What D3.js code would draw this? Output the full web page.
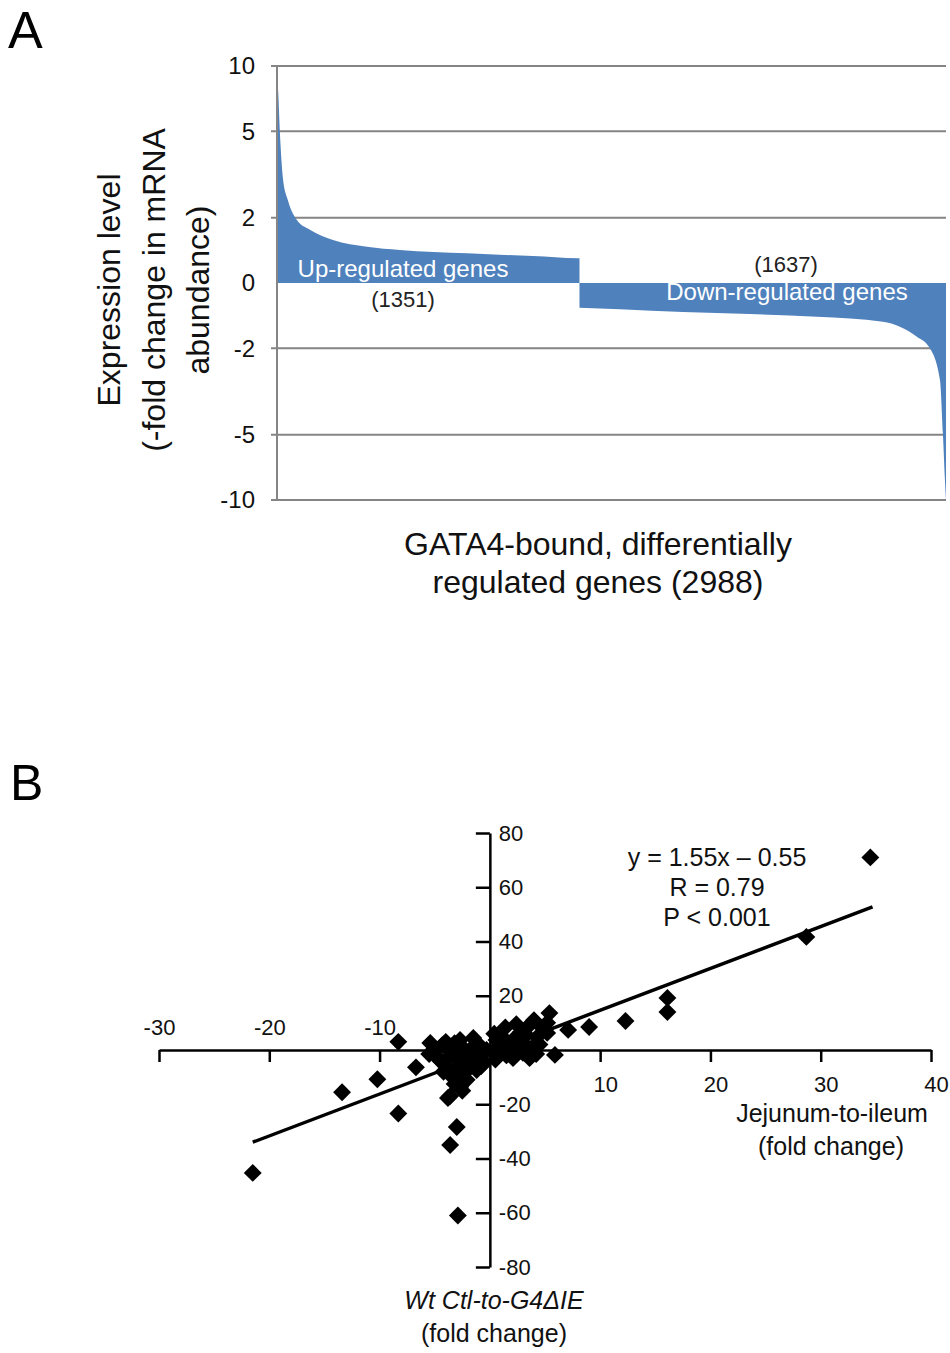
<!DOCTYPE html>
<html>
<head>
<meta charset="utf-8">
<script src="https://cdn.jsdelivr.net/npm/d3@7"></script>
<style>
  body { margin: 0; background: #fff; }
  text { font-family: "Liberation Sans", Arial, sans-serif; }
</style>
</head>
<body>
<script>
// ---- panel A: ranked genes, fold change ----
var totalGenes = 2988
var upCount = 1351
var upRank = [0, 4, 13, 27, 49, 89, 147, 250, 402, 549, 849, 1143, 1344, 1351]
var upFold = [8.6, 8.0, 4.9, 3.0, 2.4, 1.95, 1.76, 1.58, 1.47, 1.42, 1.37, 1.33, 1.3, 1.3]
var downRank = [1351, 1532, 1813, 2112, 2412, 2706, 2858, 2916, 2961, 2974, 2983, 2988]
var downFold = [-1.3, -1.32, -1.36, -1.39, -1.43, -1.51, -1.77, -2.0, -2.8, -4.9, -8.0, -10]
var ticksA = [10, 5, 2, 0, -2, -5, -10]

// ---- panel B: scatter ----
var scatterX = [34.5, 28.7, 16.1, 16.1, 12.3, 9.0, 7.1, 5.4, 5.2, 3.6, 5.9, 1.4, 2.1, 4.3, 0.9, 2.1, 3.6, 0.6, 3.0, 5.2, 1.0, 2.5, 3.8, 1.5, 4.5, 0.4, 2.8, 4.0,
  0.3, 1.8, 3.3, 4.8, 2.4, 1.2, 3.0, 4.2, 0.5,
  -21.5, -13.4, -10.2, -8.3, -8.3, -6.7, -2.9, -3.0, -3.6, -3.8, -4.8, -2.7, -1.2, -3.4, -2.1, -3.6, -2.7, -1.2, -4.3, -5.4, -2.7, -1.5, -0.3, -1.8, -3.5, -4.0, -2.0, -0.8, -3.2, -1.0, -4.5, -3.0, -2.3, -1.5, -0.5, -5.5,
  -5.0, -4.0, -2.5, -1.2, -3.8, -2.8, -1.8, -4.2, -3.2, -2.5, -0.8]
var scatterY = [71, 41.7, 19.2, 14, 10.7, 8.5, 7.4, 13.6, 10, 9.2, -1.8, 8.3, 3.7, 4.8, -1.1, -3, -3, 3.7, 2.6, 6.3, 1.0, 0.5, 0.8, -2, 2, 6, 6.5, 11,
  -0.5, 1.5, 5.5, 8, 9.5, 4.5, -1, -1.5, -3.5,
  -45.3, -15.6, -10.8, 3, -23.4, -6.4, -61, -28.4, -35, -17.7, -2.6, -4.8, -3.7, -10, -11, -17, -13.6, -7.4, 1.8, 2.6, 3.7, 4.4, 0, 0, -1, -6, -1.5, -2, 2.5, 2.0, -4, -7, -8.5, -5.5, -4.5, -1.5,
  0.5, 3, 1, 1, -3, -2.5, -3.5, -8, -12.5, -15, -6]
var fitX = [-21.5, 34.7]
var fitY = [-34.0, 52.8]
var ticksBx = [-30, -20, -10, 10, 20, 30, 40]
var ticksBy = [80, 60, 40, 20, -20, -40, -60, -80]

var svg = d3.select("body").append("svg")
  .attr("width", 950).attr("height", 1353)

// ===== Panel A =====
var toLog = function(f){ return f === 0 ? 0 : Math.sign(f) * Math.log2(Math.abs(f)) }
var xA = d3.scaleLinear().domain([0, totalGenes]).range([277, 946])
var yA = d3.scaleLinear().domain([-Math.log2(10), Math.log2(10)]).range([500, 66])
var blue = "#4f81bd"

svg.append("text").attr("x", 8).attr("y", 48)
  .style("font-size", "52px").text("A")

// gridlines
svg.selectAll("line.gridA")
  .data(ticksA.filter(function(d){ return d !== 0 }))
  .enter().append("line")
  .attr("class", "gridA")
  .attr("x1", 271).attr("x2", 946)
  .attr("y1", function(d){ return yA(toLog(d)) })
  .attr("y2", function(d){ return yA(toLog(d)) })
  .attr("stroke", "#858585").attr("stroke-width", 2)

var area = d3.area()
  .x(function(d){ return xA(d[0]) })
  .y0(yA(0))
  .y1(function(d){ return yA(toLog(d[1])) })
  .curve(d3.curveMonotoneX)

svg.append("path")
  .datum(upRank.map(function(r, i){ return [r, upFold[i]] }))
  .attr("d", area).attr("fill", blue)
svg.append("path")
  .datum(downRank.map(function(r, i){ return [r, downFold[i]] }))
  .attr("d", area).attr("fill", blue)

// left axis
var axisA = d3.axisLeft(yA)
  .tickValues(ticksA.map(toLog))
  .tickFormat(function(v){ return ticksA[ticksA.map(toLog).indexOf(v)] })
  .tickSize(0).tickPadding(22)
var gA = svg.append("g").attr("transform", "translate(277,0)").call(axisA)
gA.select(".domain").remove()
gA.selectAll("text").style("font-size", "24px").attr("fill", "#111")
svg.append("line").attr("x1", 277).attr("x2", 277)
  .attr("y1", yA.range()[1]).attr("y2", yA.range()[0])
  .attr("stroke", "#858585").attr("stroke-width", 2)

// labels in panel A
svg.append("text").attr("x", 403).attr("y", 277)
  .attr("text-anchor", "middle").attr("fill", "#fff")
  .style("font-size", "24px").text("Up-regulated genes")
svg.append("text").attr("x", 403).attr("y", 307)
  .attr("text-anchor", "middle").attr("fill", "#222")
  .style("font-size", "22px").text("(1351)")
svg.append("text").attr("x", 786).attr("y", 272)
  .attr("text-anchor", "middle").attr("fill", "#222")
  .style("font-size", "22px").text("(1637)")
svg.append("text").attr("x", 787).attr("y", 300)
  .attr("text-anchor", "middle").attr("fill", "#fff")
  .style("font-size", "24px").text("Down-regulated genes")

var titleA = ["Expression level", "(-fold change in mRNA", "abundance)"]
var titleAx = [120, 165, 209]
titleA.forEach(function(t, i){
  svg.append("text")
    .attr("transform", "translate(" + titleAx[i] + ",290) rotate(-90)")
    .attr("text-anchor", "middle").style("font-size", "32px").attr("fill", "#111")
    .text(t)
})
svg.append("text").attr("x", 598).attr("y", 555)
  .attr("text-anchor", "middle").style("font-size", "32px").attr("fill", "#111")
  .text("GATA4-bound, differentially")
svg.append("text").attr("x", 598).attr("y", 593)
  .attr("text-anchor", "middle").style("font-size", "32px").attr("fill", "#111")
  .text("regulated genes (2988)")

// ===== Panel B =====
var xB = d3.scaleLinear().domain([-30, 40]).range([159, 931])
var yB = d3.scaleLinear().domain([-80, 80]).range([1267, 833])

svg.append("text").attr("x", 10).attr("y", 800)
  .style("font-size", "50px").text("B")

var plain = function(d){ return String(d) }

var axisBx = d3.axisBottom(xB).tickValues(ticksBx).tickFormat(plain).tickSizeInner(12).tickSizeOuter(0)
var gBx = svg.append("g").attr("transform", "translate(0," + yB(0) + ")").call(axisBx)
gBx.select(".domain").attr("stroke-width", 2.5)
gBx.selectAll("line").attr("stroke-width", 2.5)
gBx.selectAll("text")
  .style("font-size", "22px").attr("fill", "#111")
  .attr("x", function(d){ return d < 0 ? 0 : 5 })
  .attr("dy", null)
  .attr("y", function(d){ return d < 0 ? -15 : 42 })

var axisBy = d3.axisLeft(yB).tickValues(ticksBy).tickFormat(plain).tickSizeInner(14).tickSizeOuter(0)
var gBy = svg.append("g").attr("transform", "translate(" + xB(0) + ",0)").call(axisBy)
gBy.select(".domain").attr("stroke-width", 2.5)
gBy.selectAll("line").attr("stroke-width", 2.5)
gBy.selectAll("text")
  .style("font-size", "22px").attr("fill", "#111")
  .attr("x", 9).attr("text-anchor", "start")

// regression line
svg.append("line")
  .attr("x1", xB(fitX[0])).attr("y1", yB(fitY[0]))
  .attr("x2", xB(fitX[1])).attr("y2", yB(fitY[1]))
  .attr("stroke", "#000").attr("stroke-width", 3.5)

var marker = d3.symbol().type(d3.symbolSquare).size(160)
svg.selectAll("path.pt")
  .data(scatterX.map(function(x, i){ return [x, scatterY[i]] }))
  .enter().append("path")
  .attr("class", "pt")
  .attr("d", marker)
  .attr("transform", function(d){ return "translate(" + xB(d[0]) + "," + yB(d[1]) + ") rotate(45)" })
  .attr("fill", "#000")

var eq = ["y = 1.55x \u2013 0.55", "R = 0.79", "P < 0.001"]
eq.forEach(function(t, i){
  svg.append("text").attr("x", 717).attr("y", 866 + i * 30)
    .attr("text-anchor", "middle").style("font-size", "25px").attr("fill", "#111")
    .text(t)
})

svg.append("text").attr("x", 832).attr("y", 1122)
  .attr("text-anchor", "middle").style("font-size", "25px").attr("fill", "#111")
  .text("Jejunum-to-ileum")
svg.append("text").attr("x", 831).attr("y", 1155)
  .attr("text-anchor", "middle").style("font-size", "25px").attr("fill", "#111")
  .text("(fold change)")
svg.append("text").attr("x", 494).attr("y", 1309)
  .attr("text-anchor", "middle").style("font-size", "25px").style("font-style", "italic").attr("fill", "#111")
  .text("Wt Ctl-to-G4\u0394IE")
svg.append("text").attr("x", 494).attr("y", 1342)
  .attr("text-anchor", "middle").style("font-size", "25px").attr("fill", "#111")
  .text("(fold change)")
</script>
</body>
</html>
